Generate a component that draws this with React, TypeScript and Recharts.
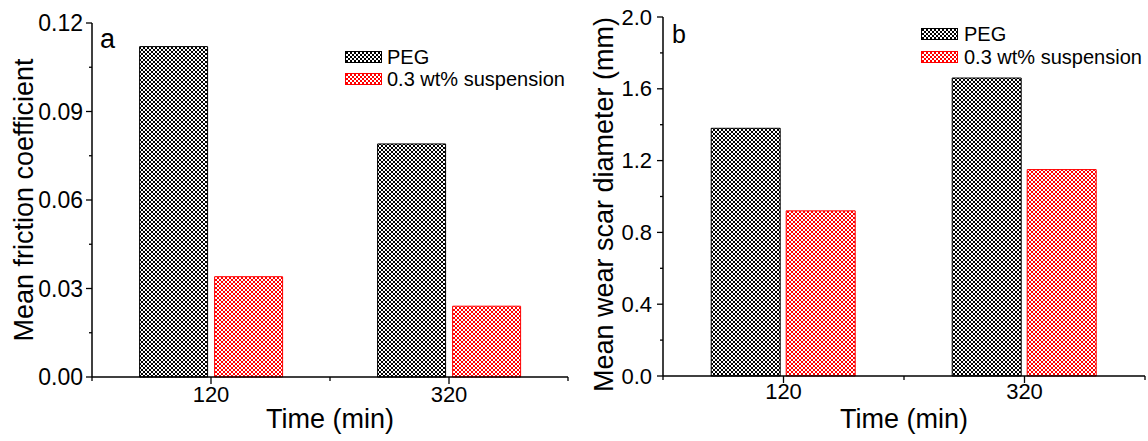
import React from "react";
import { BarChart, Bar, XAxis, YAxis, Legend } from "recharts";

const categories = ["120", "320"];
const seriesNames = ["PEG", "0.3 wt% suspension"];
const seriesStroke = ["#000000", "#ff0000"];
const seriesFill = ["url(#hatch-black)", "url(#hatch-red)"];

const frictionPeg = [0.112, 0.079];
const frictionSusp = [0.034, 0.024];
const wearPeg = [1.38, 1.66];
const wearSusp = [0.92, 1.15];

const frictionTicks = [0, 0.015, 0.03, 0.045, 0.06, 0.075, 0.09, 0.105, 0.12];
const frictionLabels = ["0.00", "", "0.03", "", "0.06", "", "0.09", "", "0.12"];
const wearTicks = [0, 0.2, 0.4, 0.6, 0.8, 1.0, 1.2, 1.4, 1.6, 1.8, 2.0];
const wearLabels = ["0.0", "", "0.4", "", "0.8", "", "1.2", "", "1.6", "", "2.0"];

const frictionRows = categories.map((time, i) => ({
  time,
  peg: frictionPeg[i],
  susp: frictionSusp[i],
}));
const wearRows = categories.map((time, i) => ({
  time,
  peg: wearPeg[i],
  susp: wearSusp[i],
}));

const FONT = '"Liberation Sans", Arial, sans-serif';
const AXIS = { stroke: "#000", strokeWidth: 1.5 };

// 4px crosshatch, drawn pixel by pixel so it stays crisp
const Hatch = ({ id, color }: { id: string; color: string }) => (
  <pattern id={id} width={4} height={4} patternUnits="userSpaceOnUse">
    <rect width={4} height={4} fill="#fff" />
    <g fill={color} shapeRendering="crispEdges">
      <rect x={1} y={1} width={2} height={2} />
      <rect x={0} y={0} width={1} height={1} />
      <rect x={3} y={0} width={1} height={1} />
      <rect x={0} y={3} width={1} height={1} />
      <rect x={3} y={3} width={1} height={1} />
    </g>
  </pattern>
);

const leftTick = (labels: string[], fontSize: number, gap: number) => (props: any) => {
  const { x, y, index } = props;
  const label = labels[index];
  const major = label !== "";
  return (
    <g>
      <line x1={x} x2={x - (major ? 6 : 3)} y1={y} y2={y} stroke="#000" strokeWidth={1.3} />
      {major && (
        <text x={x - gap} y={y} textAnchor="end" dominantBaseline="central" fontSize={fontSize} fill="#000">
          {label}
        </text>
      )}
    </g>
  );
};

const rightTick = (labels: string[]) => (props: any) => {
  const { x, y, index } = props;
  const major = labels[index] !== "";
  return <line x1={x} x2={x + (major ? 5 : 3)} y1={y} y2={y} stroke="#000" strokeWidth={1.3} />;
};

const bottomTick = (fontSize: number, labelDy: number) => (props: any) => {
  const { x, y, index, payload } = props;
  const half = payload?.offset ?? 0;
  return (
    <g>
      <line x1={x} x2={x} y1={y} y2={y + 7} stroke="#000" strokeWidth={1.3} />
      <line x1={x + half} x2={x + half} y1={y} y2={y + 4} stroke="#000" strokeWidth={1.3} />
      {index === 0 && <line x1={x - half} x2={x - half} y1={y} y2={y + 4} stroke="#000" strokeWidth={1.3} />}
      <text x={x} y={y + labelDy} textAnchor="middle" dominantBaseline="central" fontSize={fontSize} fill="#000">
        {payload.value}
      </text>
    </g>
  );
};

const topTick = (props: any) => {
  const { x, y, index, payload } = props;
  const half = payload?.offset ?? 0;
  return (
    <g>
      <line x1={x} x2={x} y1={y} y2={y - 7} stroke="#000" strokeWidth={1.3} />
      <line x1={x + half} x2={x + half} y1={y} y2={y - 4} stroke="#000" strokeWidth={1.3} />
      {index === 0 && <line x1={x - half} x2={x - half} y1={y} y2={y - 4} stroke="#000" strokeWidth={1.3} />}
    </g>
  );
};

// legend drawn in series order (the default legend sorts by name)
const legendContent = (rowHeight: number, gap: number) => () => (
  <div style={{ fontFamily: FONT, fontSize: 20, color: "#000" }}>
    {seriesNames.map((name, i) => (
      <div key={name} style={{ display: "flex", alignItems: "center", height: rowHeight }}>
        <svg width={37} height={12} style={{ display: "block" }}>
          <rect x={0.5} y={0.5} width={36} height={11} fill={seriesFill[i]} stroke={seriesStroke[i]} strokeWidth={1} />
        </svg>
        <span style={{ marginLeft: gap, lineHeight: 1, whiteSpace: "nowrap" }}>{name}</span>
      </div>
    ))}
  </div>
);

type PanelProps = {
  rows: { time: string; peg: number; susp: number }[];
  width: number;
  margin: { top: number; right: number; bottom: number; left: number };
  axisWidth: number;
  xAxisHeight: number;
  domain: [number, number];
  ticks: number[];
  labels: string[];
  tickFont: number;
  tickGap: number;
  xTickFont: number;
  xTickDy: number;
  yTitle: string;
  yTitleOffset: number;
  yTitleDy: number;
  barGap: number;
  letter: string;
  letterX: number;
  letterY: number;
  letterSize: number;
  legendLeft: number;
  legendTop: number;
  legendRow: number;
  legendGap: number;
};

const Panel = (p: PanelProps) => (
  <BarChart
    width={p.width}
    height={441}
    data={p.rows}
    margin={p.margin}
    barGap={p.barGap}
    barCategoryGap="20%"
  >
    <XAxis
      dataKey="time"
      xAxisId="bottom"
      height={p.xAxisHeight}
      axisLine={AXIS}
      tickLine={false}
      tickSize={0}
      tickMargin={0}
      tick={bottomTick(p.xTickFont, p.xTickDy)}
      interval={0}
      label={{
        value: "Time (min)",
        position: "insideBottom",
        offset: 13,
        style: { fontSize: 27, fill: "#000", fontFamily: FONT },
      }}
    />
    <XAxis
      dataKey="time"
      xAxisId="top"
      orientation="top"
      height={0}
      axisLine={AXIS}
      tickLine={false}
      tickSize={0}
      tickMargin={0}
      tick={topTick}
      interval={0}
    />
    <YAxis
      yAxisId="left"
      width={p.axisWidth}
      domain={p.domain}
      ticks={p.ticks}
      interval={0}
      axisLine={AXIS}
      tickLine={false}
      tickSize={0}
      tickMargin={0}
      tick={leftTick(p.labels, p.tickFont, p.tickGap)}
      label={{
        value: p.yTitle,
        angle: -90,
        position: "insideLeft",
        offset: p.yTitleOffset,
        dy: p.yTitleDy,
        style: { fontSize: 27, fill: "#000", textAnchor: "middle", fontFamily: FONT },
      }}
    />
    <YAxis
      yAxisId="right"
      orientation="right"
      width={0}
      domain={p.domain}
      ticks={p.ticks}
      interval={0}
      axisLine={AXIS}
      tickLine={false}
      tickSize={0}
      tickMargin={0}
      tick={rightTick(p.labels)}
    />
    <Legend
      layout="vertical"
      align="center"
      verticalAlign="middle"
      wrapperStyle={{ left: p.legendLeft, top: p.legendTop, width: "auto" }}
      content={legendContent(p.legendRow, p.legendGap)}
    />
    <Bar
      dataKey="peg"
      name={seriesNames[0]}
      xAxisId="bottom"
      yAxisId="left"
      fill={seriesFill[0]}
      stroke={seriesStroke[0]}
      strokeWidth={1}
      isAnimationActive={false}
    />
    <Bar
      dataKey="susp"
      name={seriesNames[1]}
      xAxisId="bottom"
      yAxisId="left"
      fill={seriesFill[1]}
      stroke={seriesStroke[1]}
      strokeWidth={1}
      isAnimationActive={false}
    />
    <text x={p.letterX} y={p.letterY} fontSize={p.letterSize} fill="#000" fontFamily={FONT}>
      {p.letter}
    </text>
  </BarChart>
);

export default function App() {
  return (
    <div
      style={{
        position: "absolute",
        left: 0,
        top: 0,
        width: 1148,
        height: 441,
        background: "#fff",
        fontFamily: FONT,
      }}
    >
      <svg width={0} height={0} style={{ position: "absolute" }}>
        <defs>
          <Hatch id="hatch-black" color="#000" />
          <Hatch id="hatch-red" color="#ff0000" />
        </defs>
      </svg>
      <div style={{ position: "absolute", left: 0, top: 0 }}>
        <Panel
          rows={frictionRows}
          width={580}
          margin={{ top: 23, right: 12, bottom: 0, left: 0 }}
          axisWidth={92}
          xAxisHeight={64}
          domain={[0, 0.12]}
          ticks={frictionTicks}
          labels={frictionLabels}
          tickFont={23}
          tickGap={9}
          xTickFont={22}
          xTickDy={17}
          yTitle="Mean friction coefficient"
          yTitleOffset={23}
          yTitleDy={0}
          barGap={7}
          letter="a"
          letterX={100}
          letterY={48}
          letterSize={27}
          legendLeft={345}
          legendTop={46}
          legendRow={22}
          legendGap={5}
        />
      </div>
      <div style={{ position: "absolute", left: 580, top: 0 }}>
        <Panel
          rows={wearRows}
          width={568}
          margin={{ top: 17, right: 3, bottom: 0, left: 0 }}
          axisWidth={83}
          xAxisHeight={65}
          domain={[0, 2]}
          ticks={wearTicks}
          labels={wearLabels}
          tickFont={22}
          tickGap={11}
          xTickFont={22}
          xTickDy={15}
          yTitle="Mean wear scar diameter (mm)"
          yTitleOffset={23}
          yTitleDy={8}
          barGap={6}
          letter="b"
          letterX={92}
          letterY={43}
          letterSize={25}
          legendLeft={341}
          legendTop={22}
          legendRow={23}
          legendGap={6}
        />
      </div>
    </div>
  );
}
